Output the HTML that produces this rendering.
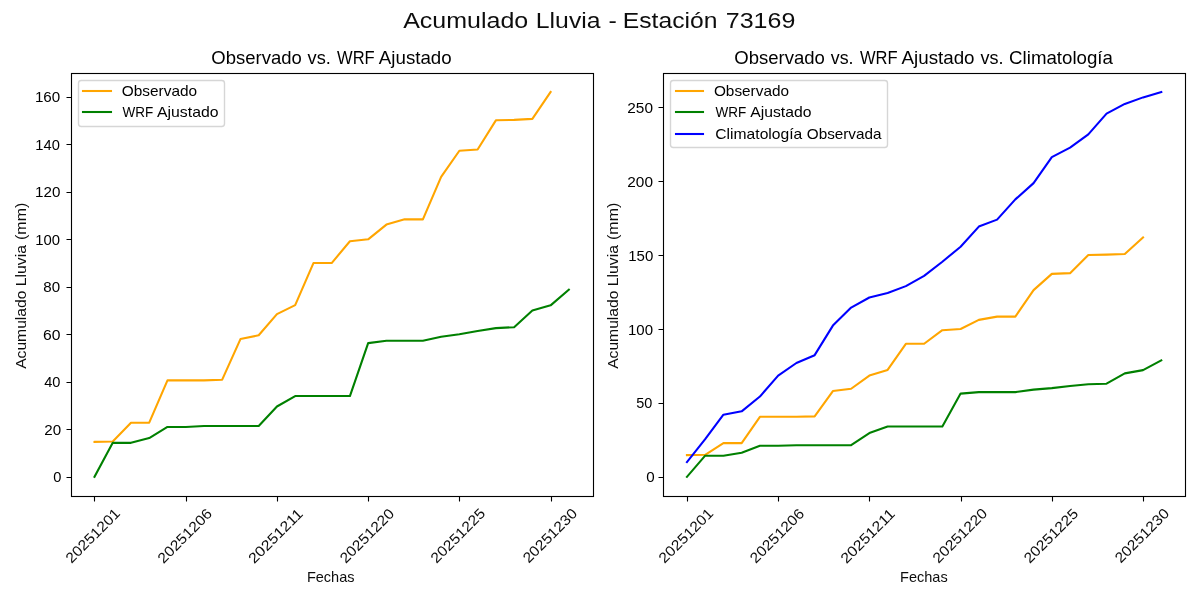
<!DOCTYPE html>
<html lang="es">
<head>
<meta charset="utf-8">
<title>Acumulado Lluvia - Estación 73169</title>
<style>
html,body{margin:0;padding:0;background:#fff;}
body{width:1200px;height:600px;overflow:hidden;font-family:"Liberation Sans",sans-serif;}
svg{display:block;}
svg text{font-family:"Liberation Sans",sans-serif;white-space:pre;}
</style>
</head>
<body>
<svg width="1200" height="600" viewBox="0 0 1200 600">
<rect width="1200" height="600" fill="#fff"/>
<g class="axes axes-1">
<path d="M94.5 441.91 L112.74 441.43 L130.98 422.67 L149.23 422.67 L167.47 380.4 L185.72 380.4 L203.96 380.4 L222.2 379.68 L240.45 339.07 L258.69 335.27 L276.94 314.13 L295.18 305.11 L313.43 263.07 L331.67 263.07 L349.91 241.22 L368.16 239.32 L386.4 224.6 L404.65 219.37 L422.89 219.37 L441.14 176.86 L459.38 150.73 L477.62 149.55 L495.87 120.33 L514.11 119.86 L532.36 118.91 L550.6 92.07" fill="none" stroke="#ffa500" stroke-width="2.083" stroke-linejoin="round" stroke-linecap="square"/>
<path d="M94.5 476.82 L112.74 442.86 L130.98 442.86 L149.23 438.11 L167.47 426.95 L185.72 426.95 L203.96 426 L222.2 426 L240.45 426 L258.69 426 L276.94 406.52 L295.18 396.07 L313.43 396.07 L331.67 396.07 L349.91 396.07 L368.16 343.11 L386.4 340.73 L404.65 340.73 L422.89 340.73 L441.14 336.7 L459.38 334.32 L477.62 331 L495.87 328.15 L514.11 327.2 L532.36 310.57 L550.6 305.35 L568.85 289.67" fill="none" stroke="#008000" stroke-width="2.083" stroke-linejoin="round" stroke-linecap="square"/>
<path d="M94.5 496.5V501.5M186.5 496.5V501.5M277.5 496.5V501.5M368.5 496.5V501.5M459.5 496.5V501.5M551.5 496.5V501.5M71.5 477.5H66.5M71.5 429.5H66.5M71.5 382.5H66.5M71.5 334.5H66.5M71.5 287.5H66.5M71.5 239.5H66.5M71.5 192.5H66.5M71.5 144.5H66.5M71.5 97.5H66.5" fill="none" stroke="#000" stroke-width="1.111"/>
<rect x="71.5" y="73.5" width="522" height="423" fill="none" stroke="#000" stroke-width="1.111"/>
<rect x="78.5" y="80.5" width="146" height="46" rx="2.78" ry="2.78" fill="#fff" fill-opacity="0.8" stroke="#ccc" stroke-opacity="0.8" stroke-width="1.389"/>
<path d="M81.96 91H112.04" fill="none" stroke="#ffa500" stroke-width="2.083"/>
<path d="M81.96 112H112.04" fill="none" stroke="#008000" stroke-width="2.083"/>
</g>
<g class="axes axes-2">
<path d="M686.93 455.09 L705.18 454.8 L723.42 443.12 L741.67 443.12 L759.91 416.81 L778.15 416.81 L796.4 416.81 L814.64 416.37 L832.89 391.09 L851.13 388.73 L869.37 375.57 L887.62 369.96 L905.86 343.79 L924.11 343.79 L942.35 330.19 L960.6 329.01 L978.84 319.85 L997.08 316.6 L1015.33 316.6 L1033.57 290.14 L1051.82 273.88 L1070.06 273.14 L1088.31 254.96 L1106.55 254.66 L1124.79 254.07 L1143.04 237.37" fill="none" stroke="#ffa500" stroke-width="2.083" stroke-linejoin="round" stroke-linecap="square"/>
<path d="M686.93 476.82 L705.18 455.69 L723.42 455.69 L741.67 452.73 L759.91 445.78 L778.15 445.78 L796.4 445.19 L814.64 445.19 L832.89 445.19 L851.13 445.19 L869.37 433.07 L887.62 426.57 L905.86 426.57 L924.11 426.57 L942.35 426.57 L960.6 393.61 L978.84 392.13 L997.08 392.13 L1015.33 392.13 L1033.57 389.61 L1051.82 388.14 L1070.06 386.07 L1088.31 384.29 L1106.55 383.7 L1124.79 373.35 L1143.04 370.1 L1161.28 360.35" fill="none" stroke="#008000" stroke-width="2.083" stroke-linejoin="round" stroke-linecap="square"/>
<path d="M686.93 462.04 L705.18 439.13 L723.42 414.74 L741.67 411.34 L759.91 396.56 L778.15 375.57 L796.4 363.01 L814.64 355.17 L832.89 325.61 L851.13 307.58 L869.37 297.53 L887.62 293.09 L905.86 286.15 L924.11 275.8 L942.35 261.76 L960.6 246.68 L978.84 226.58 L997.08 219.63 L1015.33 199.38 L1033.57 183.12 L1051.82 157.11 L1070.06 147.65 L1088.31 134.34 L1106.55 113.65 L1124.79 103.9 L1143.04 97.39 L1161.28 92.07" fill="none" stroke="#0000ff" stroke-width="2.083" stroke-linejoin="round" stroke-linecap="square"/>
<path d="M687.5 496.5V501.5M778.5 496.5V501.5M869.5 496.5V501.5M961.5 496.5V501.5M1052.5 496.5V501.5M1143.5 496.5V501.5M663.5 477.5H658.5M663.5 403.5H658.5M663.5 329.5H658.5M663.5 255.5H658.5M663.5 181.5H658.5M663.5 107.5H658.5" fill="none" stroke="#000" stroke-width="1.111"/>
<rect x="663.5" y="73.5" width="522" height="423" fill="none" stroke="#000" stroke-width="1.111"/>
<rect x="670.5" y="80.5" width="217" height="67" rx="2.78" ry="2.78" fill="#fff" fill-opacity="0.8" stroke="#ccc" stroke-opacity="0.8" stroke-width="1.389"/>
<path d="M674.96 91H704.04" fill="none" stroke="#ffa500" stroke-width="2.083"/>
<path d="M674.96 112H704.04" fill="none" stroke="#008000" stroke-width="2.083"/>
<path d="M674.96 134H704.04" fill="none" stroke="#0000ff" stroke-width="2.083"/>
</g>
<g class="labels" fill="#000" style="filter:grayscale(1)">
<text class="suptitle" transform="translate(600 22) translate(-195.94 6)" font-size="22.22" fill-opacity="0.95"><tspan x="-0.88" textLength="125.05" lengthAdjust="spacingAndGlyphs">Acumulado</tspan> <tspan x="131.8" textLength="64.66" lengthAdjust="spacingAndGlyphs">Lluvia</tspan> <tspan x="204.53" textLength="8.32" lengthAdjust="spacingAndGlyphs">-</tspan> <tspan x="218.79" textLength="94.58" lengthAdjust="spacingAndGlyphs">Estación</tspan> <tspan x="321.76" textLength="69.52" lengthAdjust="spacingAndGlyphs">73169</tspan></text>
<text class="xtick" transform="translate(94.5 535.57) rotate(-45) translate(-35.12 3.75)" font-size="14.51" fill-opacity="0.95"><tspan x="-1.28" textLength="70.21" lengthAdjust="spacingAndGlyphs">20251201</tspan></text>
<text class="xtick" transform="translate(185.72 535.57) rotate(-45) translate(-35.12 4.5)" font-size="14.51" fill-opacity="0.95"><tspan x="-0.77" textLength="70.03" lengthAdjust="spacingAndGlyphs">20251206</tspan></text>
<text class="xtick" transform="translate(276.94 535.61) rotate(-45) translate(-35.19 4.25)" font-size="14.51" fill-opacity="0.95"><tspan x="-1.04" textLength="69.98" lengthAdjust="spacingAndGlyphs">20251211</tspan></text>
<text class="xtick" transform="translate(368.16 535.52) rotate(-45) translate(-35.06 4.25)" font-size="14.51" fill-opacity="0.95"><tspan x="-1.02" textLength="69.91" lengthAdjust="spacingAndGlyphs">20251220</tspan></text>
<text class="xtick" transform="translate(459.38 535.52) rotate(-45) translate(-35.06 4)" font-size="14.51" fill-opacity="0.95"><tspan x="-1.28" textLength="70.17" lengthAdjust="spacingAndGlyphs">20251225</tspan></text>
<text class="xtick" transform="translate(550.6 535.52) rotate(-45) translate(-35.06 4.5)" font-size="14.51" fill-opacity="0.95"><tspan x="-0.52" textLength="69.91" lengthAdjust="spacingAndGlyphs">20251230</tspan></text>
<text class="ytick" transform="translate(56.68 478.32) translate(-4.38 4)" font-size="14.44"><tspan x="0.84" textLength="8.14" lengthAdjust="spacingAndGlyphs">0</tspan></text>
<text class="ytick" transform="translate(52.31 430.82) translate(-8.75 4)" font-size="14.44"><tspan x="0.76" textLength="16.84" lengthAdjust="spacingAndGlyphs">20</tspan></text>
<text class="ytick" transform="translate(52.31 383.32) translate(-8.75 4)" font-size="14.44"><tspan x="0.59" textLength="16.23" lengthAdjust="spacingAndGlyphs">40</tspan></text>
<text class="ytick" transform="translate(52.24 335.82) translate(-8.81 4)" font-size="14.44"><tspan x="-0.33" textLength="17.44" lengthAdjust="spacingAndGlyphs">60</tspan></text>
<text class="ytick" transform="translate(52.24 288.32) translate(-8.81 4)" font-size="14.44"><tspan x="-0.21" textLength="16.81" lengthAdjust="spacingAndGlyphs">80</tspan></text>
<text class="ytick" transform="translate(47.87 240.82) translate(-13.19 3.75)" font-size="14.44"><tspan x="0.64" textLength="24.77" lengthAdjust="spacingAndGlyphs">100</tspan></text>
<text class="ytick" transform="translate(47.87 193.32) translate(-13.19 3.25)" font-size="14.44"><tspan x="0.37" textLength="25.31" lengthAdjust="spacingAndGlyphs">120</tspan></text>
<text class="ytick" transform="translate(47.87 145.82) translate(-13.19 4)" font-size="14.44"><tspan x="0.66" textLength="24.5" lengthAdjust="spacingAndGlyphs">140</tspan></text>
<text class="ytick" transform="translate(47.81 98.32) translate(-13.25 4)" font-size="14.44"><tspan x="0.37" textLength="25.31" lengthAdjust="spacingAndGlyphs">160</tspan></text>
<text class="title" transform="translate(331.67 59.5) translate(-119.88 4)" font-size="18.67"><tspan x="-0.44" textLength="90.4" lengthAdjust="spacingAndGlyphs">Observado</tspan> <tspan x="95.82" textLength="23.27" lengthAdjust="spacingAndGlyphs">vs.</tspan> <tspan x="125.26" textLength="37.61" lengthAdjust="spacingAndGlyphs">WRF</tspan> <tspan x="167.07" textLength="72.83" lengthAdjust="spacingAndGlyphs">Ajustado</tspan></text>
<text class="xlabel" transform="translate(331.67 578) translate(-23.94 4)" font-size="15" fill-opacity="0.95"><tspan x="-0.83" textLength="47.63" lengthAdjust="spacingAndGlyphs">Fechas</tspan></text>
<text class="ylabel" transform="translate(22 284.45) rotate(-90) translate(-82.75 3.5)" font-size="15" fill-opacity="0.95"><tspan x="-1.67" textLength="78.28" lengthAdjust="spacingAndGlyphs">Acumulado</tspan> <tspan x="80.95" textLength="41.16" lengthAdjust="spacingAndGlyphs">Lluvia</tspan> <tspan x="127.23" textLength="37.24" lengthAdjust="spacingAndGlyphs">(mm)</tspan></text>
<text class="legend" transform="translate(159.85 92.33) translate(-37.69 4)" font-size="13.75"><tspan x="-0.45" textLength="75.37" lengthAdjust="spacingAndGlyphs">Observado</tspan></text>
<text class="legend" transform="translate(170.48 113.28) translate(-48.31 4)" font-size="13.75"><tspan x="0.4" textLength="30.7" lengthAdjust="spacingAndGlyphs">WRF</tspan> <tspan x="34.86" textLength="61.5" lengthAdjust="spacingAndGlyphs">Ajustado</tspan></text>
<text class="xtick" transform="translate(686.93 535.57) rotate(-45) translate(-35.12 4.25)" font-size="14.51" fill-opacity="0.95"><tspan x="-0.78" textLength="70.21" lengthAdjust="spacingAndGlyphs">20251201</tspan></text>
<text class="xtick" transform="translate(778.15 535.57) rotate(-45) translate(-35.12 4.25)" font-size="14.51" fill-opacity="0.95"><tspan x="-0.77" textLength="69.78" lengthAdjust="spacingAndGlyphs">20251206</tspan></text>
<text class="xtick" transform="translate(869.37 535.61) rotate(-45) translate(-35.19 4)" font-size="14.51" fill-opacity="0.95"><tspan x="-1.29" textLength="69.98" lengthAdjust="spacingAndGlyphs">20251211</tspan></text>
<text class="xtick" transform="translate(960.6 535.52) rotate(-45) translate(-35.06 4.5)" font-size="14.51" fill-opacity="0.95"><tspan x="-0.78" textLength="70.42" lengthAdjust="spacingAndGlyphs">20251220</tspan></text>
<text class="xtick" transform="translate(1051.82 535.52) rotate(-45) translate(-35.06 4.5)" font-size="14.51" fill-opacity="0.95"><tspan x="-0.77" textLength="69.91" lengthAdjust="spacingAndGlyphs">20251225</tspan></text>
<text class="xtick" transform="translate(1143.04 535.52) rotate(-45) translate(-35.06 4.25)" font-size="14.51" fill-opacity="0.95"><tspan x="-0.77" textLength="69.91" lengthAdjust="spacingAndGlyphs">20251230</tspan></text>
<text class="ytick" transform="translate(649.12 478.32) translate(-4.38 4)" font-size="14.44"><tspan x="1.57" textLength="8.43" lengthAdjust="spacingAndGlyphs">0</tspan></text>
<text class="ytick" transform="translate(644.74 404.42) translate(-8.75 4)" font-size="14.44"><tspan x="0.24" textLength="16.07" lengthAdjust="spacingAndGlyphs">50</tspan></text>
<text class="ytick" transform="translate(640.31 330.51) translate(-13.19 4)" font-size="14.44"><tspan x="0.88" textLength="25.04" lengthAdjust="spacingAndGlyphs">100</tspan></text>
<text class="ytick" transform="translate(640.31 256.61) translate(-13.19 4)" font-size="14.44"><tspan x="1.13" textLength="25.04" lengthAdjust="spacingAndGlyphs">150</tspan></text>
<text class="ytick" transform="translate(640.37 182.7) translate(-13.12 4)" font-size="14.44"><tspan x="-0.01" textLength="25.7" lengthAdjust="spacingAndGlyphs">200</tspan></text>
<text class="ytick" transform="translate(640.37 108.8) translate(-13.12 4)" font-size="14.44"><tspan x="-0.01" textLength="25.7" lengthAdjust="spacingAndGlyphs">250</tspan></text>
<text class="title" transform="translate(924.11 59.25) translate(-188.94 4.25)" font-size="18.67"><tspan x="-0.94" textLength="90.65" lengthAdjust="spacingAndGlyphs">Observado</tspan> <tspan x="95.57" textLength="22.73" lengthAdjust="spacingAndGlyphs">vs.</tspan> <tspan x="124.76" textLength="37.61" lengthAdjust="spacingAndGlyphs">WRF</tspan> <tspan x="166.32" textLength="73.09" lengthAdjust="spacingAndGlyphs">Ajustado</tspan> <tspan x="245.26" textLength="23" lengthAdjust="spacingAndGlyphs">vs.</tspan> <tspan x="273.95" textLength="103.83" lengthAdjust="spacingAndGlyphs">Climatología</tspan></text>
<text class="xlabel" transform="translate(924.11 578) translate(-23.94 4)" font-size="15" fill-opacity="0.95"><tspan x="-0.08" textLength="47.63" lengthAdjust="spacingAndGlyphs">Fechas</tspan></text>
<text class="ylabel" transform="translate(614.56 284.45) rotate(-90) translate(-82.75 3)" font-size="15" fill-opacity="0.95"><tspan x="-1.67" textLength="78.28" lengthAdjust="spacingAndGlyphs">Acumulado</tspan> <tspan x="80.95" textLength="41.16" lengthAdjust="spacingAndGlyphs">Lluvia</tspan> <tspan x="127.23" textLength="37.24" lengthAdjust="spacingAndGlyphs">(mm)</tspan></text>
<text class="legend" transform="translate(752.29 92.33) translate(-37.69 4)" font-size="13.75"><tspan x="-0.7" textLength="75.12" lengthAdjust="spacingAndGlyphs">Observado</tspan></text>
<text class="legend" transform="translate(762.92 113.28) translate(-48.31 4)" font-size="13.75"><tspan x="0.9" textLength="30.7" lengthAdjust="spacingAndGlyphs">WRF</tspan> <tspan x="35.61" textLength="61.24" lengthAdjust="spacingAndGlyphs">Ajustado</tspan></text>
<text class="legend" transform="translate(798.23 134.47) translate(-83.62 4.25)" font-size="13.75"><tspan x="0.73" textLength="86.95" lengthAdjust="spacingAndGlyphs">Climatología</tspan> <tspan x="92.16" textLength="74.73" lengthAdjust="spacingAndGlyphs">Observada</tspan></text>
</g>
</svg>
</body>
</html>
